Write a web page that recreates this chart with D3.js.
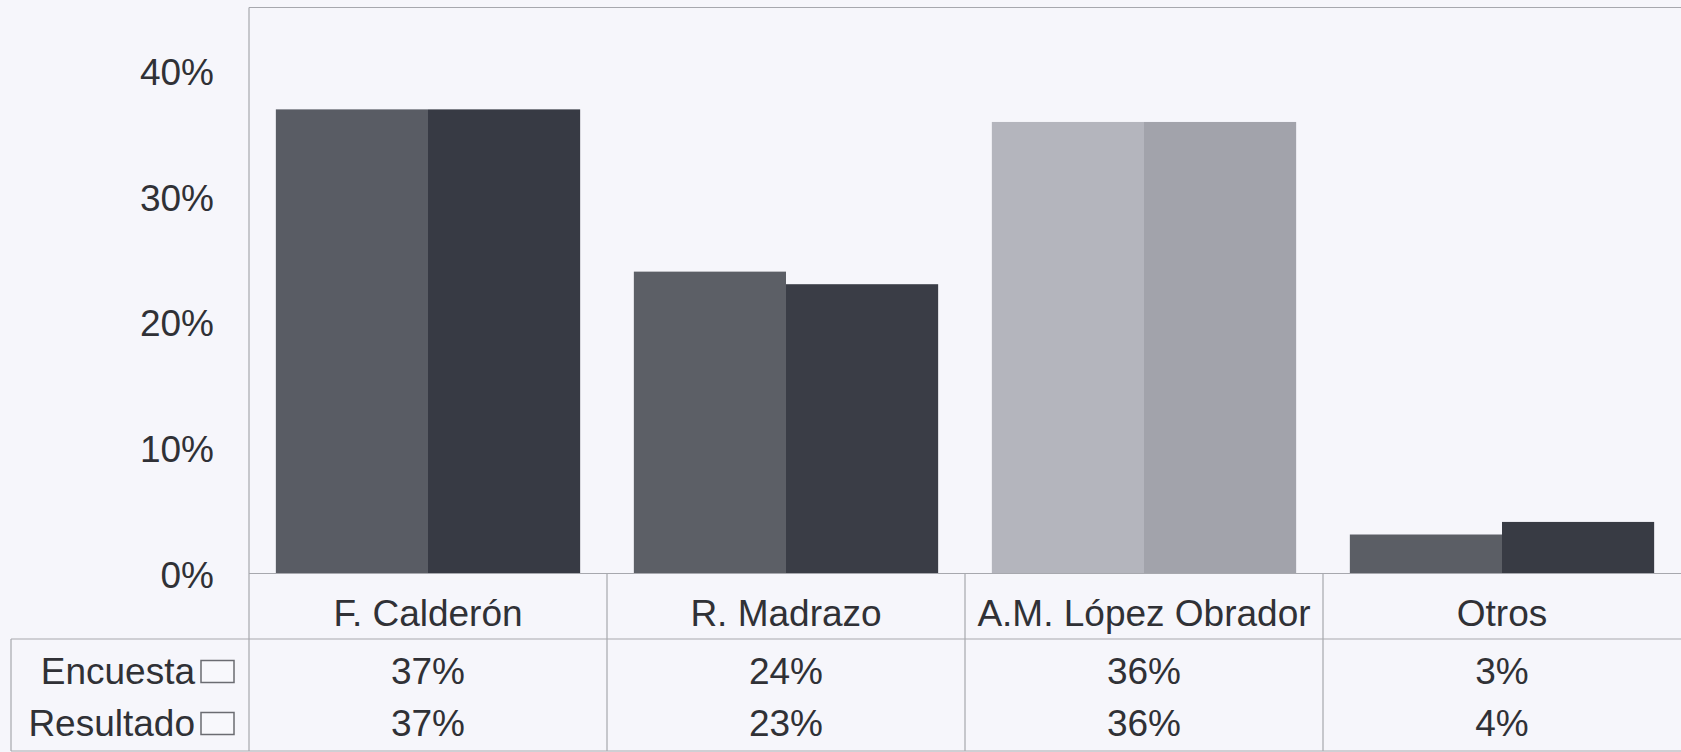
<!DOCTYPE html>
<html>
<head>
<meta charset="utf-8">
<script src="https://cdn.jsdelivr.net/npm/d3@7"></script>
<style>
	body { margin: 0; background: #f6f6fb; }
	svg { display: block; }
	text { font-family: "Liberation Sans", Arial, sans-serif; fill: #303136; }
</style>
</head>
<body>
<div id="chart"></div>
<script>
//  Data
var candidatos = ["F. Calderón", "R. Madrazo", "A.M. López Obrador", "Otros"];
var series = ["Encuesta", "Resultado"];
var encuesta = [0.369, 0.240, 0.359, 0.031];
var resultado = [0.369, 0.230, 0.359, 0.041];
var yTicks = [0, 0.1, 0.2, 0.3, 0.4];

//  Bar shades, one pair per candidate
var shades = [
	["#595c64", "#373a44"],
	["#5c5f66", "#3a3d46"],
	["#b4b5bd", "#a2a3ab"],
	["#5b5e65", "#383b44"]
];

var width = 1681,
		height = 752;

var plotLeft = 249, plotRight = 1681, plotTop = 7.5, baseY = 573.5;
var headY = 639, tableLeft = 11, tableBottom = 751;
var rowY = [671, 723];
var fontSize = "37px";

var fp = d3.format(".0%");

var svg = d3.select("#chart").append("svg").attr("width", width)
	.attr("height", height);

svg.append("rect").attr("width", width).attr("height", height)
	.attr("fill", "#f6f6fb");

var x = d3.scaleBand().domain(candidatos).range([plotLeft, plotRight])
	.paddingInner(0.15).paddingOuter(0.075);

var xs = d3.scaleBand().domain(series).range([0, x.bandwidth()]);

var y = d3.scaleLinear().domain([0, 0.45]).range([baseY, plotTop]);

var rows = candidatos.map(function(c, i) {
	return { name: c, i: i, vals: [encuesta[i], resultado[i]] };
});

//  Bars
var groups = svg.append("g").selectAll("g").data(rows).enter().append("g")
	.attr("transform", function(d) { return "translate(" + x(d.name) + ",0)"; });

groups.selectAll("rect").data(function(d) {
		return d.vals.map(function(v, j) { return { s: series[j], v: v, c: shades[d.i][j] }; });
	}).enter().append("rect")
	.attr("x", function(d) { return xs(d.s); })
	.attr("y", function(d) { return y(d.v); })
	.attr("width", xs.bandwidth())
	.attr("height", function(d) { return baseY - y(d.v); })
	.attr("fill", function(d) { return d.c; });

//  Y axis labels
var yAxis = d3.axisLeft(y).tickValues(yTicks).tickFormat(d3.format(".0%"))
	.tickSize(0).tickPadding(35);

svg.append("g").attr("transform", "translate(" + plotLeft + ",2)").call(yAxis)
	.call(function(g) { g.select(".domain").remove(); })
	.selectAll("text").style("font-size", fontSize).attr("fill", "#303136")
	.style("font-family", "'Liberation Sans', Arial, sans-serif");

//  Frame and table lines
var line = svg.append("g").attr("stroke", "#a7a8ae").attr("stroke-width", 1.2)
	.attr("fill", "none");

line.append("line").attr("x1", plotLeft).attr("x2", plotRight)
	.attr("y1", plotTop).attr("y2", plotTop);
line.append("line").attr("x1", plotLeft).attr("x2", plotLeft)
	.attr("y1", plotTop).attr("y2", tableBottom);
line.append("line").attr("x1", plotLeft).attr("x2", plotRight)
	.attr("y1", baseY).attr("y2", baseY);
line.append("line").attr("x1", tableLeft).attr("x2", plotRight)
	.attr("y1", headY).attr("y2", headY);
line.append("line").attr("x1", tableLeft).attr("x2", plotRight)
	.attr("y1", tableBottom).attr("y2", tableBottom);
line.append("line").attr("x1", tableLeft).attr("x2", tableLeft)
	.attr("y1", headY).attr("y2", tableBottom);

line.selectAll("line.div").data(candidatos.slice(1)).enter().append("line")
	.attr("class", "div")
	.attr("x1", function(d) { return x(d) - x.step() * x.paddingInner() / 2; })
	.attr("x2", function(d) { return x(d) - x.step() * x.paddingInner() / 2; })
	.attr("y1", baseY).attr("y2", tableBottom);

//  Category header
svg.append("g").selectAll("text").data(candidatos).enter().append("text")
	.attr("x", function(d) { return x(d) + x.bandwidth() / 2; })
	.attr("y", 613).attr("dy", "0.35em").attr("text-anchor", "middle")
	.style("font-size", fontSize).text(function(d) { return d; });

//  Row labels and legend keys
var rowLab = svg.append("g").selectAll("g").data(series).enter().append("g")
	.attr("transform", function(d, i) { return "translate(0," + rowY[i] + ")"; });

rowLab.append("text").attr("x", 195).attr("dy", "0.35em")
	.attr("text-anchor", "end").style("font-size", fontSize)
	.text(function(d) { return d; });

rowLab.append("rect").attr("x", 201).attr("y", -10.5).attr("width", 33)
	.attr("height", 22).attr("fill", "#f8f8fc").attr("stroke", "#6b6c72")
	.attr("stroke-width", 1.5);

//  Row values
rowLab.selectAll("text.val").data(function(d, i) {
		return rows.map(function(r) { return { name: r.name, v: r.vals[i] }; });
	}).enter().append("text").attr("class", "val")
	.attr("x", function(d) { return x(d.name) + x.bandwidth() / 2; })
	.attr("dy", "0.35em").attr("text-anchor", "middle").style("font-size", fontSize)
	.text(function(d) { return fp(d.v); });
</script>
</body>
</html>
